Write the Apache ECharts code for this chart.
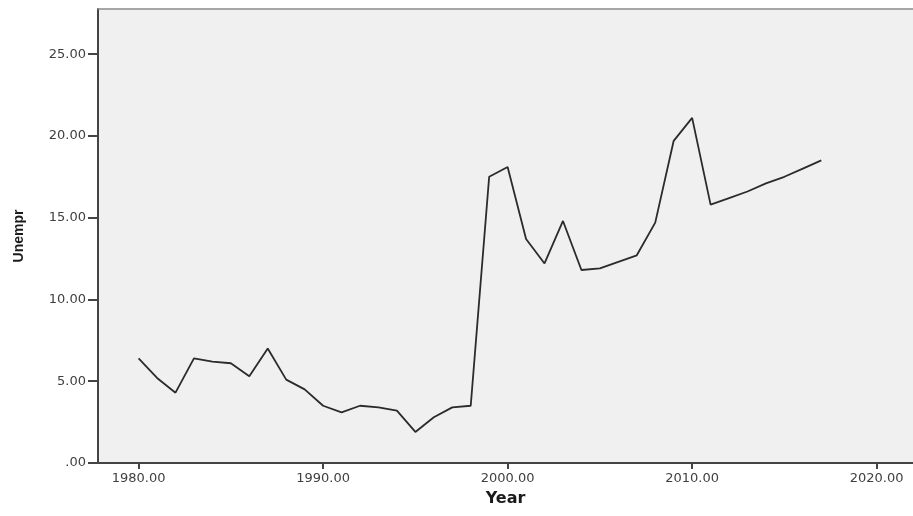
<!DOCTYPE html>
<html>
<head>
<meta charset="utf-8">
<script src="https://cdn.jsdelivr.net/npm/echarts@6/dist/echarts.min.js"></script>
<style>
  html, body { margin: 0; padding: 0; background: #fff; }
  #chart { width: 913px; height: 516px; }
</style>
</head>
<body>
<div id="chart"></div>
<script>
// unemployment rate by year
const years = [
  1980, 1981, 1982, 1983, 1984, 1985, 1986, 1987, 1988, 1989,
  1990, 1991, 1992, 1993, 1994, 1995, 1996, 1997, 1998, 1999,
  2000, 2001, 2002, 2003, 2004, 2005, 2006, 2007, 2008, 2009,
  2010, 2011, 2012, 2013, 2014, 2015, 2016, 2017
]
const unempr = [
  6.4, 5.2, 4.3, 6.4, 6.2, 6.1, 5.3, 7.0, 5.1, 4.5,
  3.5, 3.1, 3.5, 3.4, 3.2, 1.9, 2.8, 3.4, 3.5, 17.5,
  18.1, 13.7, 12.2, 14.8, 11.8, 11.9, 12.3, 12.7, 14.7, 19.7,
  21.1, 15.8, 16.2, 16.6, 17.1, 17.5, 18.0, 18.5
]
const xTicks = [1980, 1990, 2000, 2010, 2020]
const yTicks = [0, 5, 10, 15, 20, 25]

const chart = echarts.init(document.getElementById("chart"))

const tickFont = { fontFamily: "DejaVu Sans", fontSize: 13, color: "#404040" }
const xMin = 1977.8
const xMax = 2021.97

chart.setOption({
  animation: false,
  backgroundColor: "#ffffff",
  grid: {
    left: 98,
    top: 9,
    right: 0,
    bottom: 53,
    show: true,
    backgroundColor: "#f0f0f0",
    borderWidth: 0,
  },
  xAxis: [
    {
      type: "value",
      min: xMin,
      max: xMax,
      name: "Year",
      nameLocation: "middle",
      nameGap: 28,
      nameTextStyle: { fontFamily: "DejaVu Sans", fontWeight: "bold", fontSize: 16, color: "#1a1a1a" },
      axisLine: { show: true, onZero: false, lineStyle: { color: "#444", width: 2 } },
      axisTick: { show: true, customValues: xTicks, length: 6, lineStyle: { color: "#444", width: 2 } },
      axisLabel: { ...tickFont, customValues: xTicks, margin: 9, formatter: (v) => v.toFixed(2) },
      splitLine: { show: false },
    },
    {
      // top frame line only
      type: "value",
      position: "top",
      min: xMin,
      max: xMax,
      axisLine: { show: true, onZero: false, lineStyle: { color: "#8c8c8c", width: 1.5 } },
      axisTick: { show: false },
      axisLabel: { show: false },
      splitLine: { show: false },
    },
  ],
  yAxis: {
    type: "value",
    min: 0,
    max: 27.76,
    name: "Unempr",
    nameLocation: "middle",
    nameGap: 72,
    nameTextStyle: {
      fontFamily: "Liberation Sans Narrow, Liberation Sans",
      fontWeight: "bold",
      fontSize: 14,
      color: "#1a1a1a",
    },
    axisLine: { show: true, lineStyle: { color: "#444", width: 2 } },
    axisTick: { show: true, customValues: yTicks, length: 10, lineStyle: { color: "#444", width: 2 } },
    axisLabel: {
      ...tickFont,
      customValues: yTicks,
      margin: 12,
      formatter: (v) => (v === 0 ? ".00" : v.toFixed(2)),
    },
    splitLine: { show: false },
  },
  series: [
    {
      type: "line",
      xAxisIndex: 0,
      data: years.map((y, i) => [y, unempr[i]]),
      showSymbol: false,
      lineStyle: { color: "#2b2b2b", width: 1.8 },
    },
  ],
})
</script>
</body>
</html>
